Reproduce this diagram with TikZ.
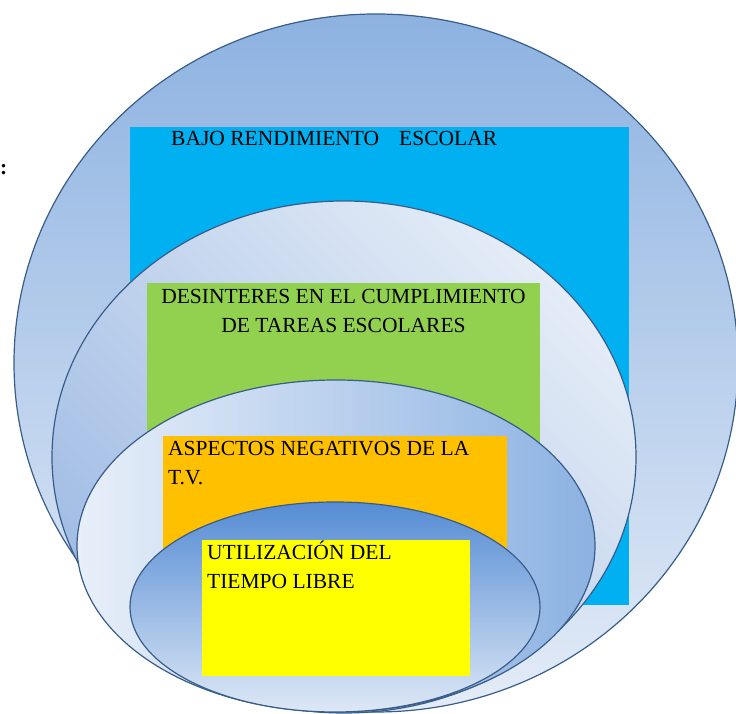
\documentclass[tikz,border=0pt]{standalone}
\usepackage{fontspec}
\setmainfont{Liberation Serif}
\usepackage{tkz-euclide}
\definecolor{LineClr}{RGB}{56,93,138}
\definecolor{OuterTopClr}{RGB}{141,178,225}
\definecolor{OuterBotClr}{RGB}{228,236,247}
\definecolor{SecondDarkClr}{RGB}{160,188,228}
\definecolor{SecondLightClr}{RGB}{228,236,247}
\definecolor{ThirdLightClr}{RGB}{232,239,249}
\definecolor{ThirdDarkClr}{RGB}{140,178,226}
\definecolor{FourthTopClr}{RGB}{85,140,212}
\definecolor{FourthBotClr}{RGB}{222,232,246}
\definecolor{BajoClr}{RGB}{0,176,240}
\definecolor{DesinClr}{RGB}{146,208,80}
\definecolor{AspecClr}{RGB}{255,192,0}
\definecolor{TiempoClr}{RGB}{255,255,0}

\begin{document}
\begin{tikzpicture}[x=1pt,y=1pt,
  shell/.style={draw=LineClr,line width=1.2pt},
  label/.style={inner sep=0pt,font=\fontsize{21.5}{29}\selectfont}]
\useasboundingbox (0,0) rectangle (736,714);

\tkzDefPoints{376/351/Oa,344/257/Ob,336/168/Oc,335/107/Od}

% outer ring and its box
\draw[shell,top color=OuterTopClr,bottom color=OuterBotClr] (Oa) ellipse (362 and 349);
\fill[BajoClr] (130,109) rectangle (629,587);
\node[label,anchor=base west] (bajo) at (171,568) {BAJO RENDIMIENTO\hspace*{20pt}ESCOLAR};

% second ring
\draw[shell,top color=SecondLightClr,bottom color=SecondDarkClr,shading angle=-45] (Ob) ellipse (292 and 256);
\fill[DesinClr] (147,250) rectangle (540,431);
\node[label,anchor=base,align=center] (desin) at (343.5,381) {DESINTERES EN EL CUMPLIMIENTO\\DE TAREAS ESCOLARES};

% third ring
\draw[shell,left color=ThirdLightClr,right color=ThirdDarkClr] (Oc) ellipse (259 and 166);
\fill[AspecClr] (163,140) rectangle (507,278);
\node[label,anchor=base west,align=left] (aspec) at (168,229) {ASPECTOS NEGATIVOS DE LA\\T.V.};

% inner ring
\draw[shell,top color=FourthTopClr,bottom color=FourthBotClr] (Od) ellipse (205 and 105);
\fill[TiempoClr] (202,38) rectangle (470,174);
\node[label,anchor=base west,align=left] (tiempo) at (207,125) {UTILIZACIÓN DEL\\TIEMPO LIBRE};

\node[label,anchor=base west] (colon) at (0,539) {\textbf{:}};

\end{tikzpicture}
\end{document}
